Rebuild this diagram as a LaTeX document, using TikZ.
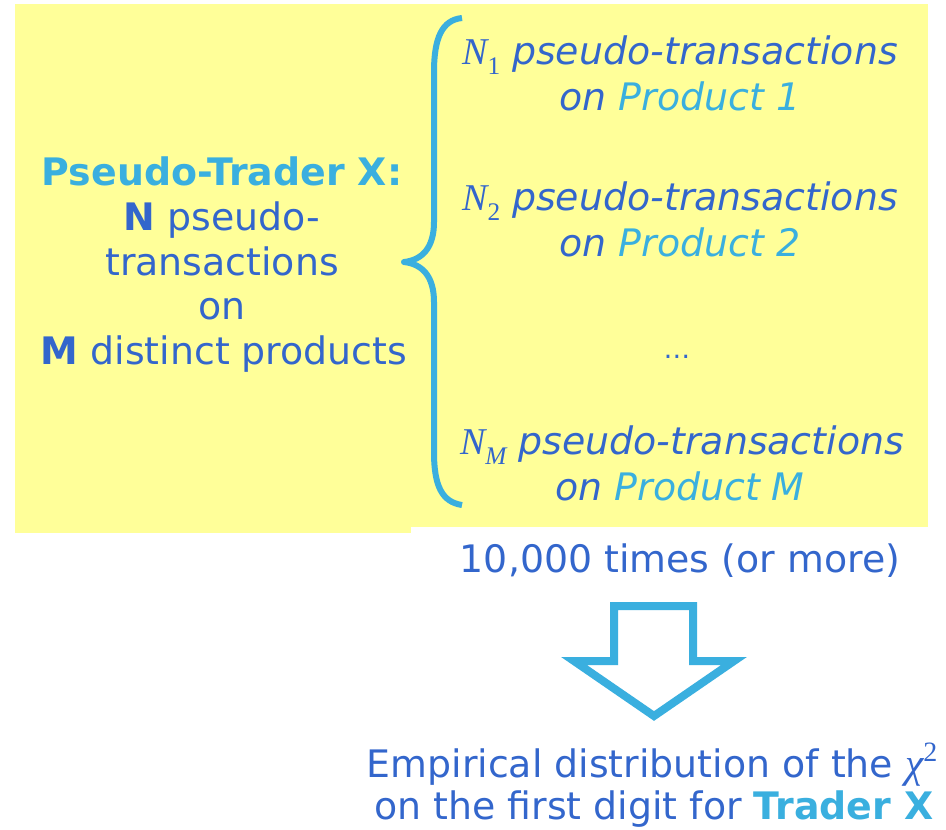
\documentclass[tikz,border=0pt]{standalone}
\usepackage{fontspec}
\setmainfont{DejaVu Sans}
\newfontfamily\serifmath{Liberation Serif}
\definecolor{pad}{HTML}{FFFF99}
\definecolor{deepblue}{HTML}{3366CC}
\definecolor{skyblue}{HTML}{3AAFDF}
% italic serif symbol with a small subscript
\newcommand{\symsub}[2]{{\serifmath\itshape #1}\raisebox{-0.28em}{\fontsize{19}{19}\selectfont\serifmath\upshape #2}}
\begin{document}
\begin{tikzpicture}[x=0.75pt,y=-0.75pt,
  txt/.style={inner sep=0pt,anchor=base,text=deepblue,font=\fontsize{28.4}{34}\selectfont},
  itxt/.style={txt,font=\fontsize{28.4}{34}\selectfont\itshape}]
\useasboundingbox (0,0) rectangle (946,829);
% yellow panels
\fill[pad] (15,4) rectangle (411,533);
\fill[pad] (411,4) rectangle (928,527);
% left description
\node[txt] (l1) at (222,185) {\textcolor{skyblue}{\bfseries Pseudo-Trader X:}};
\node[txt] (l2) at (222,230) {\textbf{N} pseudo-};
\node[txt] (l3) at (222,275) {transactions};
\node[txt] (l4) at (222,319) {on};
\node[txt] (l5) at (224,364) {\textbf{M} distinct products};
% brace
\draw[skyblue,line width=4.5pt,line join=round]
  (462,18) .. controls (442,20) and (434,38) .. (434,72) -- (434,222)
  .. controls (434,248) and (422,260) .. (404,262)
  .. controls (422,264) and (434,276) .. (434,302) -- (434,452)
  .. controls (434,486) and (442,502) .. (462,505);
% per-product lines
\node[itxt] (p1a) at (680,64) {\symsub{N}{1} pseudo-transactions};
\node[itxt] (p1b) at (680,110) {on \textcolor{skyblue}{Product 1}};
\node[itxt] (p2a) at (680,210) {\symsub{N}{2} pseudo-transactions};
\node[itxt] (p2b) at (680,256) {on \textcolor{skyblue}{Product 2}};
\node[txt,font=\fontsize{20}{24}\selectfont] (dots) at (677,358) {…};
\node[itxt] (pma) at (682,454) {\symsub{N}{\itshape M} pseudo-transactions};
\node[itxt] (pmb) at (680,500) {on \textcolor{skyblue}{Product M}};
% repetition count
\node[txt] (times) at (680,572) {10,000 times (or more)};
% block arrow
\draw[skyblue,line width=6pt,fill=white,line join=miter]
  (614,606) -- (693,606) -- (693,661) -- (734,661) -- (654,716)
  -- (574,661) -- (614,661) -- cycle;
% result
\node[txt] (r1) at (652,777) {Empirical distribution of the {\serifmath\itshape\fontsize{31}{34}\selectfont χ}\raisebox{0.42em}{\fontsize{21}{21}\selectfont\serifmath 2}};
\node[txt] (r2) at (654,819) {on the first digit for \textcolor{skyblue}{\bfseries Trader X}};
\end{tikzpicture}
\end{document}
